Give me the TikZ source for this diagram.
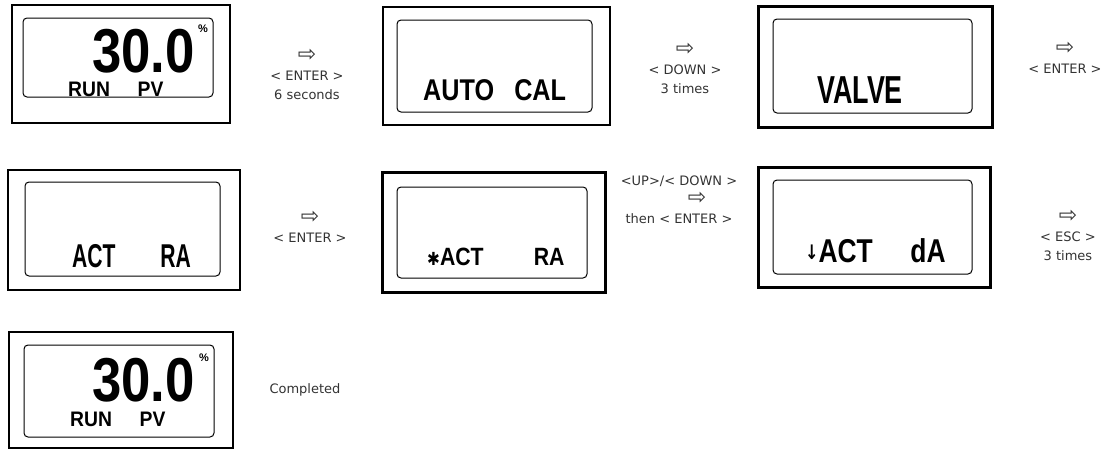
\documentclass[tikz,border=0pt]{standalone}
\usepackage{fontspec}
\newfontfamily\lcdfont{Liberation Sans}
\newfontfamily\hintfont{DejaVu Sans}
\newcommand{\keyarrow}{{\fontsize{22}{19}\selectfont ⇨}}

\begin{document}
\begin{tikzpicture}[x=1pt,y=-1pt,
            lcdframe/.style={draw, line width=#1},
            lcdscreen/.style={draw, line width=1pt, rounded corners=4pt},
            lcdchars/.style={anchor=base west, inner sep=0pt, font=\lcdfont\bfseries\fontsize{#1}{#1}\selectfont},
            keyhint/.style={align=center, inner sep=0pt, text=black!80, font=\hintfont\fontsize{13}{19}\selectfont}]
            \useasboundingbox (0,0) rectangle (1101,450);

            % RUN PV
            \draw[lcdframe=1.6pt] (12,5) rectangle (230,123);
            \draw[lcdscreen] (23,18) rectangle (213,97);
            \node[lcdchars=62] (pv_a) at (92,72) {\scalebox{0.85}[1]{30.0}};
            \node[lcdchars=11, anchor=north west] (pct_a) at (198,25) {\%};
            \node[lcdchars=21] (run_a) at (68,96) {\scalebox{0.92}[1]{RUN\hspace{30pt}PV}};
            \node[keyhint] (hint_a) at (307,74) {\keyarrow\\< ENTER >\\6 seconds};

            % AUTO CAL
            \draw[lcdframe=1.6pt] (383,7) rectangle (610,125);
            \draw[lcdscreen] (397,20) rectangle (592,112);
            \node[lcdchars=30] (autocal) at (423,100) {\scalebox{0.84}[1]{AUTO\hspace{24pt}CAL}};
            \node[keyhint] (hint_b) at (685,68) {\keyarrow\\< DOWN >\\3 times};

            % VALVE
            \draw[lcdframe=3pt] (758,6) rectangle (992,127);
            \draw[lcdscreen] (773,19) rectangle (972,113);
            \node[lcdchars=39] (valve) at (817,103) {\scalebox{0.69}[1]{VALVE}};
            \node[keyhint] (hint_c) at (1065,58) {\keyarrow\\< ENTER >};

            %%%%%%%%%%%%%%%%%%%%
            % ACT RA
            \draw[lcdframe=2.6pt] (8,170) rectangle (240,290);
            \draw[lcdscreen] (25,182) rectangle (220,276);
            \node[lcdchars=33] (act_a) at (72,267) {\scalebox{0.64}[1]{ACT\hspace{70pt}RA}};
            \node[keyhint] (hint_d) at (310,227) {\keyarrow\\< ENTER >};

            % *ACT RA
            \draw[lcdframe=3pt] (382,172) rectangle (605,292);
            \draw[lcdscreen] (397,187) rectangle (587,278);
            \node[lcdchars=25] (act_b) at (427,265)
                {\scalebox{0.85}[1]{{\hintfont\fontsize{18}{18}\selectfont ✱}ACT\hspace{59pt}RA}};
            \node[keyhint] (hint_e) at (679,200) {<UP>/< DOWN >\\\hspace{36pt}\keyarrow\\then < ENTER >};

            % ACT dA
            \draw[lcdframe=3pt] (758,167) rectangle (990,287);
            \draw[lcdscreen] (773,180) rectangle (972,274);
            \node[lcdchars=33] (act_c) at (805,262)
                {\scalebox{0.8}[1]{\raisebox{3pt}{\hintfont\fontsize{20}{20}\selectfont ↓}ACT\hspace{47pt}dA}};
            \node[keyhint] (hint_f) at (1068,235) {\keyarrow\\< ESC >\\3 times};

            %%%%%%%%%%%%%%%%%%%%
            % back to RUN PV
            \draw[lcdframe=2.6pt] (9,332) rectangle (233,448);
            \draw[lcdscreen] (24,345) rectangle (214,437);
            \node[lcdchars=62] (pv_b) at (92,401) {\scalebox{0.85}[1]{30.0}};
            \node[lcdchars=11, anchor=north west] (pct_b) at (199,354) {\%};
            \node[lcdchars=21] (run_b) at (70,426) {\scalebox{0.92}[1]{RUN\hspace{30pt}PV}};
            \node[keyhint] (done) at (305,390) {Completed};
        \end{tikzpicture}
\end{document}
